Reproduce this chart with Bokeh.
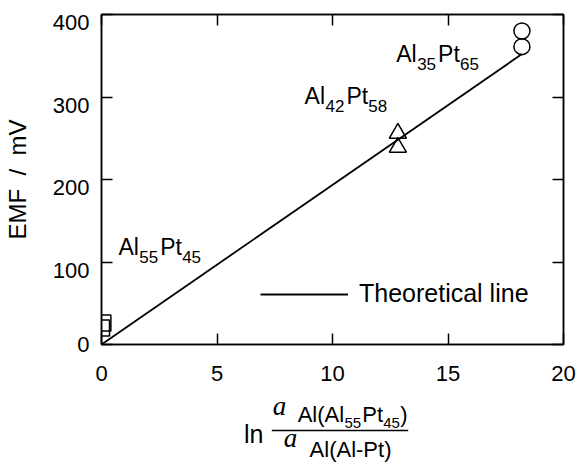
from bokeh.plotting import figure
from bokeh.models import (Label, LinearAxis, Legend, LegendItem, FixedTicker,
                          Range1d, CustomJSTickFormatter)
from bokeh.layouts import column
from bokeh.embed import file_html
from bokeh.resources import INLINE

# ---------------- data ----------------
sq_x = [0.0, 0.06]          # Al55Pt45
sq_y = [20, 26]
tri_x = [12.83, 12.83]      # Al42Pt58
tri_y = [256, 239]
cir_x = [18.2, 18.2]        # Al35Pt65
cir_y = [380, 361]
line_x = [0.0, 18.2]        # theoretical line
line_y = [0.0, 352.0]
x_ticks = [0, 5, 10, 15, 20]
y_ticks = [0, 100, 200, 300, 400]

# ---------------- layout ----------------
W = 581
H_MAIN, H_XT = 392, 72
BL, BR, BT = 99, 18, 14
BB = H_MAIN - 344
X0, X1, Y0, Y1 = 0, 20, 0, 400
SANS = "Liberation Sans"
SERIF = "Liberation Serif"
LABEL_SHIFT = 8 / ((H_MAIN - BT - BB) / (Y1 - Y0))   # tick labels sit ~8px below their ticks
BASE_K = 0.35   # label anchor is the text box middle: baseline lies 0.35 em below it


def at(px, py):
    """page pixel -> data coordinates of the main plot (annotation placement)"""
    fw = W - BL - BR
    fh = H_MAIN - BT - BB
    return X0 + (px - BL) / fw * (X1 - X0), Y0 + ((H_MAIN - BB) - py) / fh * (Y1 - Y0)


p = figure(width=W, height=H_MAIN, x_range=Range1d(X0, X1), y_range=Range1d(Y0, Y1),
           output_backend="svg", toolbar_location=None,
           min_border_left=BL, min_border_right=BR, min_border_top=BT, min_border_bottom=BB)
p.xgrid.grid_line_color = None
p.ygrid.grid_line_color = None
p.outline_line_color = "black"
p.outline_line_width = 1.5
p.background_fill_color = "white"
p.border_fill_color = "white"


def style_axis(ax, ticks):
    ax.ticker = FixedTicker(ticks=ticks)
    ax.axis_line_color = "black"
    ax.axis_line_width = 1.5
    ax.major_tick_in = 11
    ax.major_tick_out = 0
    ax.major_tick_line_color = "black"
    ax.major_tick_line_width = 1.5
    ax.minor_tick_in = 0
    ax.minor_tick_out = 0
    ax.major_label_text_font = SANS
    ax.major_label_text_font_size = "22px"
    ax.major_label_text_color = "black"


def tick_only(ax):
    ax.formatter = CustomJSTickFormatter(code="return '';")
    ax.major_label_standoff = 0


style_axis(p.xaxis[0], x_ticks)
p.xaxis[0].major_label_standoff = 21

# left: ticks on the default axis, labels on a companion axis shifted slightly down
style_axis(p.yaxis[0], y_ticks)
tick_only(p.yaxis[0])

p.extra_y_ranges = {"lab": Range1d(Y0 + LABEL_SHIFT, Y1 + LABEL_SHIFT)}
lab_ticks = [max(t, Y0 + LABEL_SHIFT + 0.05) for t in y_ticks]
lab_ax = LinearAxis(y_range_name="lab")
style_axis(lab_ax, lab_ticks)
lab_ax.formatter = CustomJSTickFormatter(code="return tick < 50 ? '0' : String(Math.round(tick));")
lab_ax.axis_line_color = None
lab_ax.major_tick_line_color = None
lab_ax.major_tick_in = 0
lab_ax.major_label_standoff = 12
lab_ax.axis_label = "EMF\u00a0\u00a0/\u00a0\u00a0mV"
lab_ax.axis_label_text_font = SANS
lab_ax.axis_label_text_font_style = "normal"
lab_ax.axis_label_text_font_size = "24px"
lab_ax.axis_label_text_color = "black"
lab_ax.axis_label_standoff = 19
p.add_layout(lab_ax, "left")

top_ax = LinearAxis()
style_axis(top_ax, x_ticks)
tick_only(top_ax)
p.add_layout(top_ax, "above")

right_ax = LinearAxis()
style_axis(right_ax, y_ticks)
tick_only(right_ax)
p.add_layout(right_ax, "right")

# ---------------- glyphs ----------------
r_line = p.line(line_x, line_y, line_color="black", line_width=1.8)
p.scatter(sq_x, sq_y, marker="square", size=16, fill_color=None,
          line_color="black", line_width=1.5)
p.scatter(tri_x, tri_y, marker="triangle", size=17, fill_color=None,
          line_color="black", line_width=1.5)
p.scatter(cir_x, cir_y, marker="circle", size=16, fill_color=None,
          line_color="black", line_width=1.5)

legend = Legend(items=[LegendItem(label="Theoretical line", renderers=[r_line])],
                location=(159, 36), glyph_width=88, glyph_height=20, label_height=20,
                label_standoff=11, padding=0, spacing=0, margin=0,
                border_line_color=None, background_fill_alpha=0,
                label_text_font=SANS, label_text_font_size="25px",
                label_text_color="black")
p.add_layout(legend)


def put(fig, text, x, y, size, font=SANS, style="normal"):
    fig.add_layout(Label(x=x, y=y, text=text, text_font=font, text_font_size=f"{size}px",
                         text_font_style=style, text_align="left",
                         text_baseline="middle", text_color="black"))


def chem(a, na, b, nb, px, py):
    offs = [0, 21, 42, 64]
    for (t, dx, dy, s) in [(a, offs[0], 0, 23), (na, offs[1], 7, 17),
                           (b, offs[2], 0, 23), (nb, offs[3], 7, 17)]:
        x, y = at(px + dx, py + dy - BASE_K * s)
        put(p, t, x, y, s)


chem("Al", "55", "Pt", "45", 116, 255)
chem("Al", "42", "Pt", "58", 303, 104)
chem("Al", "35", "Pt", "65", 395, 62)

# ---------------- x-axis title strip: ln [ a_Al(Al55Pt45) / a_Al(Al-Pt) ] ----------------
px2 = figure(width=W, height=H_XT, x_range=Range1d(BL, W - BR), y_range=Range1d(0, H_XT),
             output_backend="svg", toolbar_location=None,
             x_axis_location=None, y_axis_location=None,
             min_border_left=BL, min_border_right=BR, min_border_top=0, min_border_bottom=0)
px2.grid.grid_line_color = None
px2.outline_line_color = None
px2.background_fill_color = "white"
px2.border_fill_color = "white"
BOTTOM = H_MAIN + H_XT   # page y of strip bottom


def put2(text, pxx, pyy, size, font=SANS, style="normal"):
    put(px2, text, pxx, BOTTOM - (pyy - BASE_K * size), size, font, style)


put2("ln", 242, 442, 25)
put2("a", 271, 415, 27, SERIF, "italic")
put2("Al(Al", 296, 422, 22)
put2("55", 343, 428, 15)
put2("Pt", 361, 422, 22)
put2("45", 382, 428, 15)
put2(")", 399, 422, 22)
px2.segment(x0=[270], y0=[BOTTOM - 430], x1=[407], y1=[BOTTOM - 430],
            line_color="black", line_width=1.5)
put2("a", 282, 447, 27, SERIF, "italic")
put2("Al(Al-Pt)", 308, 457, 22)

layout = column(p, px2, spacing=0)
open("out.html", "w").write(file_html(layout, INLINE))
